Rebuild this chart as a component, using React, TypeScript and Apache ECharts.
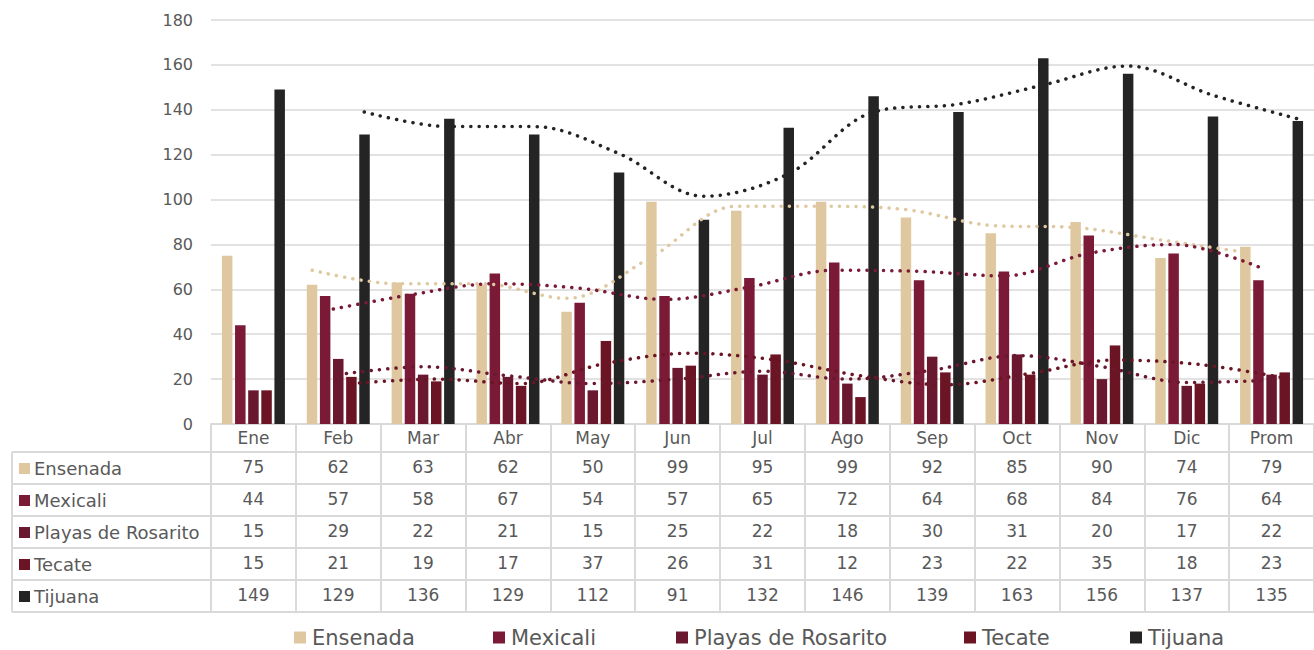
import React, { useEffect, useRef } from "react";
import * as echarts from "echarts";

const months = ["Ene", "Feb", "Mar", "Abr", "May", "Jun", "Jul", "Ago", "Sep", "Oct", "Nov", "Dic", "Prom"];
const seriesNames = ["Ensenada", "Mexicali", "Playas de Rosarito", "Tecate", "Tijuana"];
const ensenada = [75, 62, 63, 62, 50, 99, 95, 99, 92, 85, 90, 74, 79];
const mexicali = [44, 57, 58, 67, 54, 57, 65, 72, 64, 68, 84, 76, 64];
const playas = [15, 29, 22, 21, 15, 25, 22, 18, 30, 31, 20, 17, 22];
const tecate = [15, 21, 19, 17, 37, 26, 31, 12, 23, 22, 35, 18, 23];
const tijuana = [149, 129, 136, 129, 112, 91, 132, 146, 139, 163, 156, 137, 135];
const yTicks = [0, 20, 40, 60, 80, 100, 120, 140, 160, 180];
const colors = ["#dfc8a0", "#7a1a36", "#6a1830", "#6b1524", "#242424"];

const allValues = [ensenada, mexicali, playas, tecate, tijuana];

const FONT = "'DejaVu Sans', 'Noto Sans', sans-serif";
const TXT = "#595959";
const BORDER = "#d9d9d9";

export default function App() {
  const ref = useRef<HTMLDivElement>(null);
  useEffect(() => {
    if (!ref.current) return;
    const chart = echarts.init(ref.current, undefined, { renderer: "svg" });

    const gridLeft = 211;
    const gridTop = 20;
    const catW = 85.58;
    const gridW = catW * months.length;
    const gridH = 404;
    const barWidth = 10.5;
    const barGapRatio = 0.25;
    const step = barWidth * (1 + barGapRatio);
    const headerH = 28;
    const rowH = 32;
    const nRows = seriesNames.length;
    const tableFont = 17;

    const xAxes: any[] = [
      {
        type: "category",
        data: months,
        gridIndex: 0,
        position: "bottom",
        axisLine: { show: true, lineStyle: { color: BORDER, width: 2 } },
        axisTick: { show: true, interval: 0, length: headerH + rowH * nRows, lineStyle: { color: BORDER, width: 2 } },
        axisLabel: { interval: 0, color: TXT, fontSize: tableFont, fontFamily: FONT, margin: 5 },
      },
    ];
    allValues.forEach((vals, k) => {
      xAxes.push({
        type: "category",
        data: vals.map((v) => String(v)),
        gridIndex: 0,
        position: "bottom",
        offset: headerH + rowH * k,
        axisLine: { show: true, lineStyle: { color: BORDER, width: 2 } },
        axisTick: { show: false },
        axisLabel: { interval: 0, color: TXT, fontSize: tableFont, fontFamily: FONT, margin: 6 },
      });
    });
    xAxes.push({
      type: "category",
      data: months,
      gridIndex: 0,
      position: "bottom",
      offset: headerH + rowH * nRows,
      axisLine: { show: true, lineStyle: { color: BORDER, width: 2 } },
      axisTick: { show: false },
      axisLabel: { show: false },
    });
    const valueAxisIndex = xAxes.length;
    xAxes.push({ type: "value", min: 0, max: months.length, show: false, gridIndex: 0 });

    const series: any[] = [];
    allValues.forEach((vals, s) => {
      series.push({
        name: seriesNames[s],
        type: "bar",
        data: vals,
        barWidth,
        barGap: barGapRatio * 100 + "%",
        itemStyle: { color: colors[s] },
        xAxisIndex: 0,
        z: 2,
      });
    });
    allValues.forEach((vals, s) => {
      const offset = ((s - (seriesNames.length - 1) / 2) * step) / catW;
      const pts: number[][] = [];
      for (let i = 1; i < vals.length; i++) {
        pts.push([i + 0.5 + offset, (vals[i - 1] + vals[i]) / 2]);
      }
      series.push({
        name: seriesNames[s] + " (media móvil)",
        type: "line",
        xAxisIndex: valueAxisIndex,
        data: pts,
        smooth: 0.35,
        symbol: "none",
        silent: true,
        z: 5,
        lineStyle: { color: colors[s], width: 3.5, type: [0.1, 8.2], cap: "round" },
      });
    });

    const graphics: any[] = [];
    const tableLeft = 12;
    const tableTop = gridTop + gridH + headerH;
    for (let k = 0; k <= nRows; k++) {
      graphics.push({
        type: "line",
        shape: { x1: tableLeft, y1: tableTop + rowH * k, x2: gridLeft, y2: tableTop + rowH * k },
        style: { stroke: BORDER, lineWidth: 2 },
      });
    }
    graphics.push({
      type: "line",
      shape: { x1: tableLeft, y1: tableTop, x2: tableLeft, y2: tableTop + rowH * nRows },
      style: { stroke: BORDER, lineWidth: 2 },
    });
    seriesNames.forEach((name, k) => {
      const cy = tableTop + rowH * k + rowH / 2;
      graphics.push({
        type: "rect",
        shape: { x: 19, y: cy - 5, width: 11, height: 11 },
        style: { fill: colors[k] },
      });
      graphics.push({
        type: "text",
        x: 34,
        y: cy,
        style: { text: name, fill: TXT, fontSize: 18, fontFamily: FONT, verticalAlign: "middle", align: "left" },
      });
    });

    const legendLefts = [294, 493, 676, 964, 1130];
    const legends = seriesNames.map((name, k) => ({
      data: [name],
      left: legendLefts[k],
      top: 627,
      padding: 0,
      itemWidth: 12,
      itemHeight: 12,
      itemGap: 6,
      icon: "rect",
      textStyle: { color: TXT, fontSize: 21, fontFamily: FONT, padding: [0, 0, 0, 1] },
    }));

    chart.setOption({
      animation: false,
      backgroundColor: "#ffffff",
      textStyle: { fontFamily: FONT },
      grid: { left: gridLeft, top: gridTop, width: gridW, height: gridH, containLabel: false },
      legend: legends,
      xAxis: xAxes,
      yAxis: {
        type: "value",
        min: yTicks[0],
        max: yTicks[yTicks.length - 1],
        interval: yTicks[1] - yTicks[0],
        axisLine: { show: false },
        axisTick: { show: false },
        axisLabel: { color: TXT, fontSize: 16, fontFamily: FONT, margin: 18 },
        splitLine: { lineStyle: { color: BORDER, width: 1.5 } },
      },
      series,
      graphic: graphics,
    });
    return () => chart.dispose();
  }, []);
  return (
    <div
      ref={ref}
      style={{ position: "absolute", left: 0, top: 0, width: 1314, height: 650, overflow: "hidden" }}
    />
  );
}
